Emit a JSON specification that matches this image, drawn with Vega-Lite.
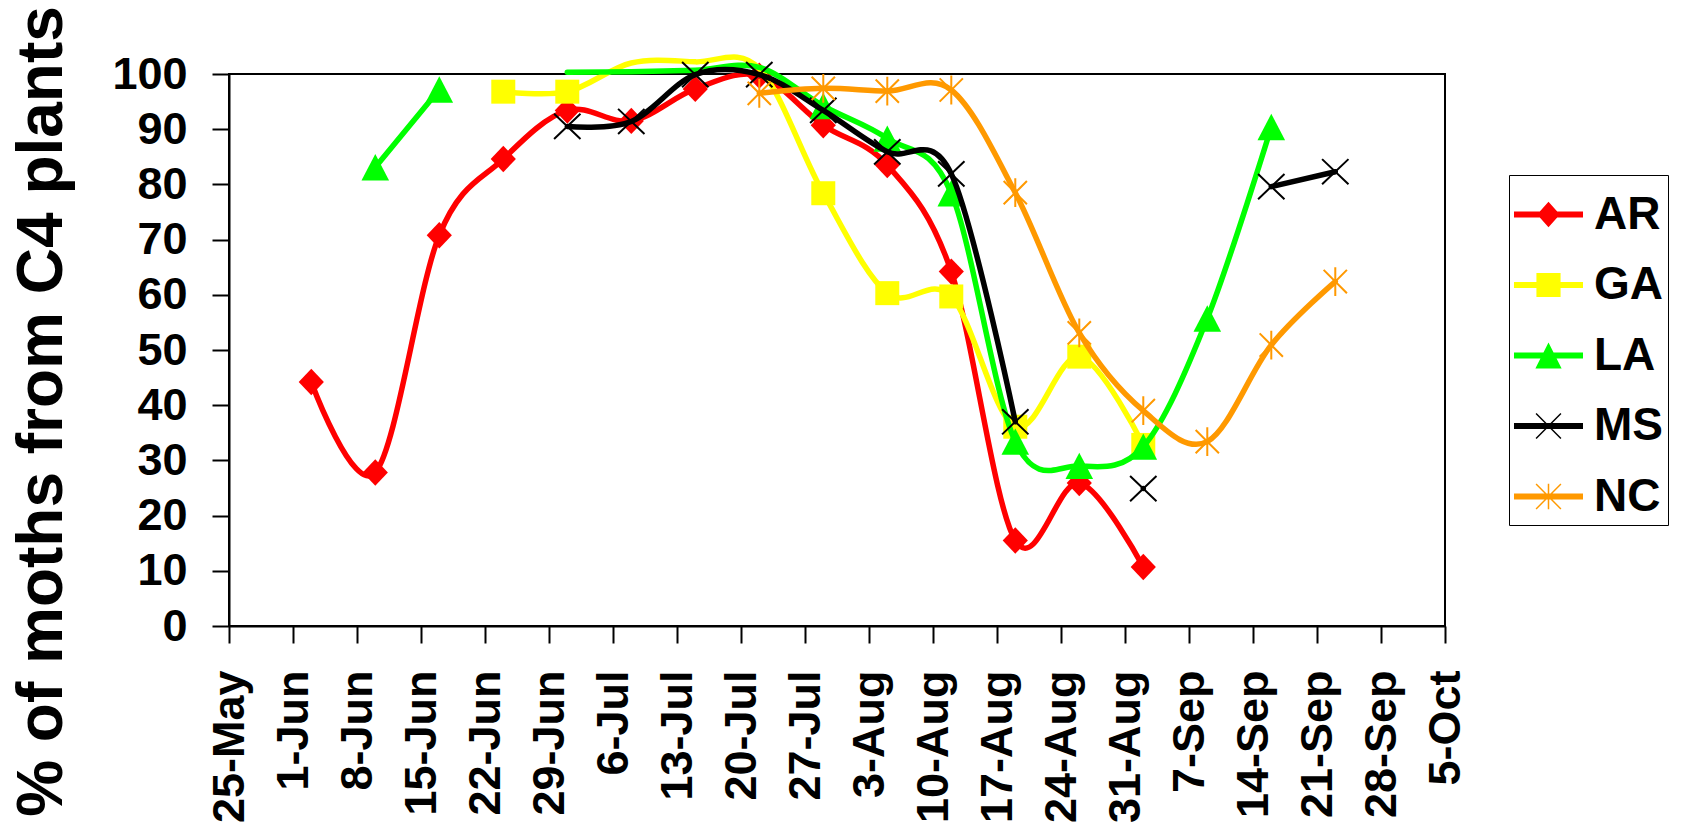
{
  "$schema": "https://vega.github.io/schema/vega-lite/v6.json",
  "width": 1216,
  "height": 552,
  "autosize": {"type": "none"},
  "padding": {"left": 229, "top": 74, "right": 240, "bottom": 205},
  "background": "white",
  "config": {
    "view": {"stroke": "black", "strokeWidth": 2},
    "font": "Liberation Sans",
    "axis": {
      "domainColor": "black", "domainWidth": 2,
      "tickColor": "black", "tickWidth": 2, "tickSize": 17,
      "grid": false,
      "labelFont": "Liberation Sans", "labelFontWeight": "bold", "labelColor": "black",
      "titleFont": "Liberation Sans", "titleFontWeight": "bold", "titleColor": "black",
      "labelFlush": false, "labelOverlap": false
    },
    "legend": {
      "strokeColor": "black",
      "fillColor": "white"
    }
  },
  "data": {
    "values": [
      {"state": "AR", "seg": 1, "date": "2003-06-03", "pct": 44.2},
      {"state": "AR", "seg": 1, "date": "2003-06-10", "pct": 27.8},
      {"state": "AR", "seg": 1, "date": "2003-06-17", "pct": 70.8},
      {"state": "AR", "seg": 1, "date": "2003-06-24", "pct": 84.6},
      {"state": "AR", "seg": 1, "date": "2003-07-01", "pct": 93.4},
      {"state": "AR", "seg": 1, "date": "2003-07-08", "pct": 91.5},
      {"state": "AR", "seg": 1, "date": "2003-07-15", "pct": 97.3},
      {"state": "AR", "seg": 1, "date": "2003-07-22", "pct": 99.7},
      {"state": "AR", "seg": 1, "date": "2003-07-29", "pct": 90.7},
      {"state": "AR", "seg": 1, "date": "2003-08-05", "pct": 83.5},
      {"state": "AR", "seg": 1, "date": "2003-08-12", "pct": 64.2},
      {"state": "AR", "seg": 1, "date": "2003-08-19", "pct": 15.5},
      {"state": "AR", "seg": 1, "date": "2003-08-26", "pct": 25.9},
      {"state": "AR", "seg": 1, "date": "2003-09-02", "pct": 10.7},
      {"state": "GA", "seg": 1, "date": "2003-06-24", "pct": 96.8},
      {"state": "GA", "seg": 1, "date": "2003-07-01", "pct": 96.8},
      {"state": "GA", "seg": 1, "date": "2003-07-08", "pct": 102.0},
      {"state": "GA", "seg": 1, "date": "2003-07-15", "pct": 102.2},
      {"state": "GA", "seg": 1, "date": "2003-07-22", "pct": 101.0},
      {"state": "GA", "seg": 1, "date": "2003-07-29", "pct": 78.4},
      {"state": "GA", "seg": 1, "date": "2003-08-05", "pct": 60.3},
      {"state": "GA", "seg": 1, "date": "2003-08-12", "pct": 59.7},
      {"state": "GA", "seg": 1, "date": "2003-08-19", "pct": 36.1},
      {"state": "GA", "seg": 1, "date": "2003-08-26", "pct": 48.8},
      {"state": "GA", "seg": 1, "date": "2003-09-02", "pct": 32.8},
      {"state": "LA", "seg": 1, "date": "2003-06-10", "pct": 83.1},
      {"state": "LA", "seg": 1, "date": "2003-06-17", "pct": 97.2},
      {"state": "LA", "seg": 2, "date": "2003-07-01", "pct": 100.3},
      {"state": "LA", "seg": 2, "date": "2003-07-08", "pct": 100.4},
      {"state": "LA", "seg": 2, "date": "2003-07-15", "pct": 100.7},
      {"state": "LA", "seg": 2, "date": "2003-07-22", "pct": 101.2},
      {"state": "LA", "seg": 2, "date": "2003-07-29", "pct": 94.2},
      {"state": "LA", "seg": 2, "date": "2003-08-05", "pct": 88.3},
      {"state": "LA", "seg": 2, "date": "2003-08-12", "pct": 78.4},
      {"state": "LA", "seg": 2, "date": "2003-08-19", "pct": 33.4},
      {"state": "LA", "seg": 2, "date": "2003-08-26", "pct": 29.0},
      {"state": "LA", "seg": 2, "date": "2003-09-02", "pct": 32.5},
      {"state": "LA", "seg": 2, "date": "2003-09-09", "pct": 55.7},
      {"state": "LA", "seg": 2, "date": "2003-09-16", "pct": 90.4},
      {"state": "MS", "seg": 1, "date": "2003-07-01", "pct": 90.5},
      {"state": "MS", "seg": 1, "date": "2003-07-08", "pct": 91.4},
      {"state": "MS", "seg": 1, "date": "2003-07-15", "pct": 99.9},
      {"state": "MS", "seg": 1, "date": "2003-07-22", "pct": 99.9},
      {"state": "MS", "seg": 1, "date": "2003-07-29", "pct": 93.4},
      {"state": "MS", "seg": 1, "date": "2003-08-05", "pct": 85.9},
      {"state": "MS", "seg": 1, "date": "2003-08-12", "pct": 81.9},
      {"state": "MS", "seg": 1, "date": "2003-08-19", "pct": 37.0},
      {"state": "MS", "seg": 2, "date": "2003-09-02", "pct": 24.9},
      {"state": "MS", "seg": 3, "date": "2003-09-16", "pct": 79.6},
      {"state": "MS", "seg": 3, "date": "2003-09-23", "pct": 82.3},
      {"state": "NC", "seg": 1, "date": "2003-07-22", "pct": 96.5},
      {"state": "NC", "seg": 1, "date": "2003-07-29", "pct": 97.4},
      {"state": "NC", "seg": 1, "date": "2003-08-05", "pct": 96.9},
      {"state": "NC", "seg": 1, "date": "2003-08-12", "pct": 97.1},
      {"state": "NC", "seg": 1, "date": "2003-08-19", "pct": 78.5},
      {"state": "NC", "seg": 1, "date": "2003-08-26", "pct": 53.1},
      {"state": "NC", "seg": 1, "date": "2003-09-02", "pct": 39.0},
      {"state": "NC", "seg": 1, "date": "2003-09-09", "pct": 33.4},
      {"state": "NC", "seg": 1, "date": "2003-09-16", "pct": 50.9},
      {"state": "NC", "seg": 1, "date": "2003-09-23", "pct": 62.4}
    ]
  },
  "encoding": {
    "x": {
      "field": "date",
      "type": "temporal",
      "scale": {
        "type": "utc",
        "domain": [
          {"year": 2003, "month": "may", "date": 25, "utc": true},
          {"year": 2003, "month": "oct", "date": 5, "utc": true}
        ]
      },
      "axis": {
        "title": null,
        "values": [
          {"year": 2003, "month": "may", "date": 25, "utc": true},
          {"year": 2003, "month": "jun", "date": 1, "utc": true},
          {"year": 2003, "month": "jun", "date": 8, "utc": true},
          {"year": 2003, "month": "jun", "date": 15, "utc": true},
          {"year": 2003, "month": "jun", "date": 22, "utc": true},
          {"year": 2003, "month": "jun", "date": 29, "utc": true},
          {"year": 2003, "month": "jul", "date": 6, "utc": true},
          {"year": 2003, "month": "jul", "date": 13, "utc": true},
          {"year": 2003, "month": "jul", "date": 20, "utc": true},
          {"year": 2003, "month": "jul", "date": 27, "utc": true},
          {"year": 2003, "month": "aug", "date": 3, "utc": true},
          {"year": 2003, "month": "aug", "date": 10, "utc": true},
          {"year": 2003, "month": "aug", "date": 17, "utc": true},
          {"year": 2003, "month": "aug", "date": 24, "utc": true},
          {"year": 2003, "month": "aug", "date": 31, "utc": true},
          {"year": 2003, "month": "sep", "date": 7, "utc": true},
          {"year": 2003, "month": "sep", "date": 14, "utc": true},
          {"year": 2003, "month": "sep", "date": 21, "utc": true},
          {"year": 2003, "month": "sep", "date": 28, "utc": true},
          {"year": 2003, "month": "oct", "date": 5, "utc": true}
        ],
        "format": "%-d-%b",
        "labelAngle": -90,
        "labelAlign": "right",
        "labelBaseline": "middle",
        "labelFontSize": 45,
        "labelPadding": 27
      }
    },
    "y": {
      "field": "pct",
      "type": "quantitative",
      "scale": {"domain": [0, 100], "nice": false},
      "axis": {
        "values": [0, 10, 20, 30, 40, 50, 60, 70, 80, 90, 100],
        "labelFontSize": 45,
        "labelPadding": 25,
        "title": "% of moths from C4 plants",
        "titleFontSize": 64,
        "titleAngle": -90,
        "titleAlign": "center",
        "titleBaseline": "bottom",
        "titleX": -155,
        "titleY": 337
      }
    }
  },
  "layer": [
    {
      "transform": [{"filter": "datum.state === 'AR'"}],
      "mark": {"type": "line", "interpolate": "cardinal", "strokeWidth": 5.5, "strokeCap": "round", "strokeJoin": "round", "clip": false, "color": "#FF0000"},
      "encoding": {"detail": {"field": "seg", "type": "nominal"}}
    },
    {
      "transform": [{"filter": "datum.state === 'AR' && datum.pct <= 100"}],
      "mark": {"type": "point", "shape": "M0,-1.1L1.05,0L0,1.1L-1.05,0Z", "filled": true, "size": 576, "color": "#FF0000", "opacity": 1, "strokeWidth": 0}
    },
    {
      "transform": [{"filter": "datum.state === 'GA'"}],
      "mark": {"type": "line", "interpolate": "cardinal", "strokeWidth": 5.5, "strokeCap": "round", "strokeJoin": "round", "clip": false, "color": "#FFFF00"},
      "encoding": {"detail": {"field": "seg", "type": "nominal"}}
    },
    {
      "transform": [{"filter": "datum.state === 'GA' && datum.pct <= 100"}],
      "mark": {"type": "point", "shape": "M-1,-1H1V1H-1Z", "filled": true, "size": 576, "color": "#FFFF00", "opacity": 1, "strokeWidth": 0}
    },
    {
      "transform": [{"filter": "datum.state === 'LA'"}],
      "mark": {"type": "line", "interpolate": "cardinal", "strokeWidth": 5.5, "strokeCap": "round", "strokeJoin": "round", "clip": false, "color": "#00FF00"},
      "encoding": {"detail": {"field": "seg", "type": "nominal"}}
    },
    {
      "transform": [{"filter": "datum.state === 'LA' && datum.pct <= 100"}],
      "mark": {"type": "point", "shape": "M0,-1.1L1.15,1.1L-1.15,1.1Z", "filled": true, "size": 576, "color": "#00FF00", "opacity": 1, "strokeWidth": 0}
    },
    {
      "transform": [{"filter": "datum.state === 'MS'"}],
      "mark": {"type": "line", "interpolate": "cardinal", "strokeWidth": 5.5, "strokeCap": "round", "strokeJoin": "round", "clip": false, "color": "#000000"},
      "encoding": {"detail": {"field": "seg", "type": "nominal"}}
    },
    {
      "transform": [{"filter": "datum.state === 'MS' && datum.pct <= 100"}],
      "mark": {"type": "point", "shape": "M-1.1,-1.05L1.1,1.05M-1.1,1.05L1.1,-1.05", "filled": false, "size": 576, "color": "#000000", "opacity": 1, "strokeWidth": 2}
    },
    {
      "transform": [{"filter": "datum.state === 'NC'"}],
      "mark": {"type": "line", "interpolate": "cardinal", "strokeWidth": 5.5, "strokeCap": "round", "strokeJoin": "round", "clip": false, "color": "#FF9900"},
      "encoding": {"detail": {"field": "seg", "type": "nominal"}}
    },
    {
      "transform": [{"filter": "datum.state === 'NC' && datum.pct <= 100"}],
      "mark": {"type": "point", "shape": "M-0.97,-0.97L0.97,0.97M-0.97,0.97L0.97,-0.97M0,-1.2L0,1.2", "filled": false, "size": 576, "color": "#FF9900", "opacity": 1, "strokeWidth": 2}
    },
    {
      "mark": {"type": "point", "filled": true, "opacity": 0, "strokeWidth": 0},
      "encoding": {
        "color": {
          "field": "state",
          "type": "nominal",
          "scale": {"domain": ["AR", "GA", "LA", "MS", "NC"], "range": ["#FF0000", "#FFFF00", "#00FF00", "#000000", "#FF9900"]},
          "legend": {
            "title": null, "orient": "none", "legendX": 1280, "legendY": 101,
            "symbolSize": 4761, "symbolStrokeWidth": 0, "symbolOpacity": 1,
            "labelFontSize": 46, "labelFontWeight": "bold", "labelFont": "Liberation Sans", "labelColor": "black",
            "labelOffset": 11, "rowPadding": 12.5, "padding": 5
          }
        },
        "shape": {
          "field": "state",
          "type": "nominal",
          "scale": {
            "domain": ["AR", "GA", "LA", "MS", "NC"],
            "range": [
              "M-1,-0.087H1V0.087H-1Z M0,-0.37L0.33,0L0,0.37L-0.33,0Z",
              "M-1,-0.087H1V0.087H-1Z M-0.35,-0.35H0.35V0.35H-0.35Z",
              "M-1,-0.087H1V0.087H-1Z M0,-0.38L0.38,0.38L-0.38,0.38Z",
              "M-1,-0.087H1V0.087H-1Z M-0.345,-0.375L0.375,0.345L0.345,0.375L-0.375,-0.345Z M-0.345,0.375L-0.375,0.345L0.345,-0.375L0.375,-0.345Z",
              "M-1,-0.087H1V0.087H-1Z M-0.345,-0.375L0.375,0.345L0.345,0.375L-0.375,-0.345Z M-0.345,0.375L-0.375,0.345L0.345,-0.375L0.375,-0.345Z M-0.022,-0.37H0.022V0.37H-0.022Z"
            ]
          },
          "legend": {
            "title": null, "orient": "none", "legendX": 1280, "legendY": 101,
            "symbolSize": 4761, "symbolStrokeWidth": 0, "symbolOpacity": 1,
            "labelFontSize": 46, "labelFontWeight": "bold", "labelFont": "Liberation Sans", "labelColor": "black",
            "labelOffset": 11, "rowPadding": 12.5, "padding": 5
          }
        }
      }
    }
  ]
}
